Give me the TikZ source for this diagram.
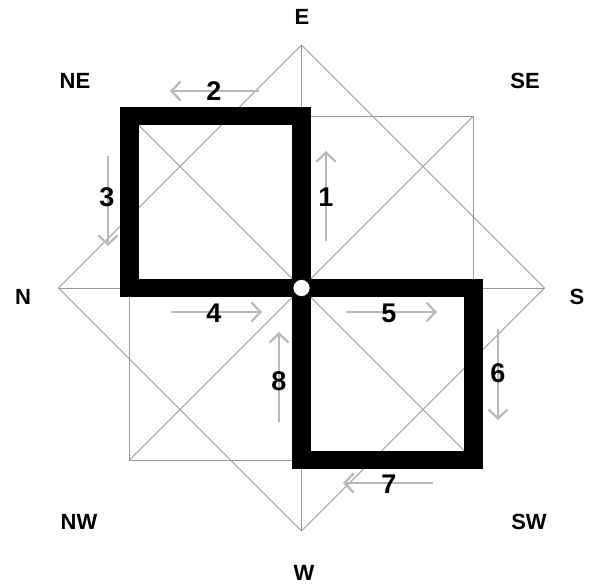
\documentclass[tikz,border=0pt]{standalone}
\usepackage{fontspec}
\setmainfont{Liberation Sans}
\usetikzlibrary{arrows.meta}
\definecolor{thinline}{HTML}{9A9A9A}
\definecolor{arrowgray}{HTML}{B8B8B8}
\tikzset{
  thinln/.style={draw=thinline, line width=0.9pt},
  thickln/.style={draw=black, line width=18.5pt, line join=miter},
  flow/.style={draw=arrowgray, line width=2.4pt, -{Straight Barb[length=9pt,width=19pt,line width=2.2pt]}},
  dirlbl/.style={font=\bfseries\fontsize{22}{22}\selectfont, text=black, inner sep=0pt},
  numlbl/.style={font=\bfseries\fontsize{27}{27}\selectfont, text=black, inner sep=0pt},
  hub/.style={circle, fill=white, draw=black, line width=0.6pt, minimum size=17pt, inner sep=0pt}
}
\begin{document}
\begin{tikzpicture}[x=1pt,y=-1pt]
\useasboundingbox (0,0) rectangle (589,585);
% geometry
\coordinate (O) at (301.5,288);
\coordinate (TL) at (129.5,116);
\coordinate (TR) at (473.5,116);
\coordinate (BL) at (129.5,460);
\coordinate (BR) at (473.5,460);
\coordinate (Ept) at (301.5,45);
\coordinate (Npt) at (58.5,288);
\coordinate (Spt) at (544.5,288);
\coordinate (Wpt) at (301.5,531);
% thin lines
\draw[thinln] (TL) rectangle (BR);
\draw[thinln] (Ept) -- (Spt) -- (Wpt) -- (Npt) -- cycle;
\draw[thinln] (Ept) -- (Wpt);
\draw[thinln] (Npt) -- (Spt);
\draw[thinln] (TL) -- (BR);
\draw[thinln] (TR) -- (BL);
% flow arrows
\coordinate (a1s) at (326,241); \coordinate (a1e) at (326,151);
\coordinate (a2s) at (259,91);  \coordinate (a2e) at (170,91);
\coordinate (a3s) at (108,156); \coordinate (a3e) at (108,246);
\coordinate (a4s) at (171,312); \coordinate (a4e) at (262,312);
\coordinate (a5s) at (346,312); \coordinate (a5e) at (437,312);
\coordinate (a6s) at (498,329); \coordinate (a6e) at (498,420);
\coordinate (a7s) at (433,483); \coordinate (a7e) at (343,483);
\coordinate (a8s) at (279,422); \coordinate (a8e) at (279,332);
\draw[flow] (a1s) -- (a1e);
\draw[flow] (a2s) -- (a2e);
\draw[flow] (a3s) -- (a3e);
\draw[flow] (a4s) -- (a4e);
\draw[flow] (a5s) -- (a5e);
\draw[flow] (a6s) -- (a6e);
\draw[flow] (a7s) -- (a7e);
\draw[flow] (a8s) -- (a8e);
% number labels
\node[numlbl] (n1) at (326,197) {1};
\node[numlbl] (n2) at (214,91) {2};
\node[numlbl] (n3) at (107,197) {3};
\node[numlbl] (n4) at (214,313) {4};
\node[numlbl] (n5) at (389,313) {5};
\node[numlbl] (n6) at (498,373) {6};
\node[numlbl] (n7) at (389,484) {7};
\node[numlbl] (n8) at (279,381) {8};
% thick squares
\draw[thickln] (TL) rectangle (O);
\draw[thickln] (O) rectangle (BR);
\node[hub] (hub) at (O) {};
% direction labels
\node[dirlbl] (lE) at (302,17) {E};
\node[dirlbl] (lNE) at (75,81) {NE};
\node[dirlbl] (lSE) at (525,81) {SE};
\node[dirlbl] (lN) at (23,297) {N};
\node[dirlbl] (lS) at (577,297) {S};
\node[dirlbl] (lNW) at (79,522) {NW};
\node[dirlbl] (lSW) at (529,522) {SW};
\node[dirlbl] (lW) at (304,573) {W};
\end{tikzpicture}
\end{document}
